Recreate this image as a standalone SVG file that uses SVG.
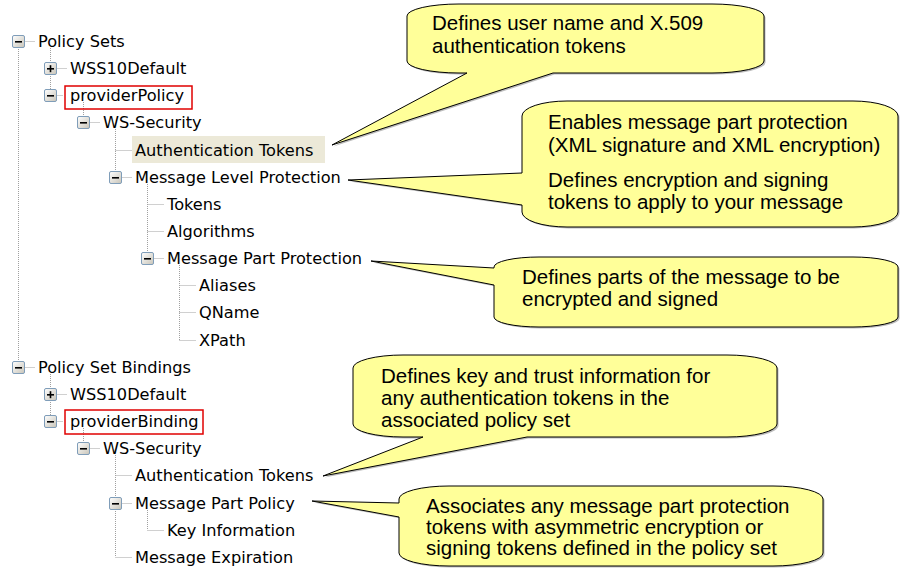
<svg xmlns="http://www.w3.org/2000/svg" xmlns:xlink="http://www.w3.org/1999/xlink" width="902" height="568" viewBox="0 0 902 568">
  <style>
    .tree text { font-family: "DejaVu Sans", Verdana, sans-serif; font-size: 16.2px; fill: #000; }
    .note text { font-family: "Liberation Sans", Arial, sans-serif; font-size: 20.5px; fill: #000; }
    .bubble { fill: #FFFF99; stroke: #000; stroke-width: 1; stroke-linejoin: round; }
    .shadow { fill: #7a7a7a; opacity: 0.5; }
    .dot { stroke: #A0A0A0; stroke-width: 1; stroke-dasharray: 1 1; fill: none; }
    .mark { stroke: #E00000; stroke-width: 1.5; fill: none; }
    .sel { fill: #ECE9D8; }
  </style>
  <defs>
    <linearGradient id="btn" x1="0" y1="0" x2="1" y2="1">
      <stop offset="0" stop-color="#FFFFFF"/>
      <stop offset="1" stop-color="#C8C4B8"/>
    </linearGradient>
    <!-- expander buttons, drawn from their top-left corner -->
    <g id="btn-minus">
      <rect x="0.5" y="0.5" width="12" height="12" rx="1.5" fill="url(#btn)" stroke="#7F9DB9"/>
      <rect x="3" y="6" width="7" height="1.6" fill="#000"/>
    </g>
    <g id="btn-plus">
      <rect x="0.5" y="0.5" width="12" height="12" rx="1.5" fill="url(#btn)" stroke="#7F9DB9"/>
      <rect x="3" y="6" width="7" height="1.6" fill="#000"/>
      <rect x="5.7" y="3.2" width="1.6" height="7" fill="#000"/>
    </g>
    <!-- callout outlines -->
    <path id="b1" d="M459,4 H712 A52,12 0 0 1 764,16 V61 A52,12 0 0 1 712,73 H553 L332,145 L467,73 H459 A52,12 0 0 1 407,61 V16 A52,12 0 0 1 459,4 Z"/>
    <path id="b2" d="M567,101 H853 A45,15 0 0 1 898,116 V212 A45,15 0 0 1 853,227 H567 A45,15 0 0 1 522,212 V205 L348,180 L522,173 V116 A45,15 0 0 1 567,101 Z"/>
    <path id="b3" d="M539,257 H853 A45,10 0 0 1 898,267 V317 A45,10 0 0 1 853,327 H539 A45,10 0 0 1 494,317 V285 L371,261 L494,268 V267 A45,10 0 0 1 539,257 Z"/>
    <path id="b4" d="M403,355 H727 A50,13 0 0 1 777,368 V424 A50,13 0 0 1 727,437 H527 L323,476 L423,437 H403 A50,13 0 0 1 353,424 V368 A50,13 0 0 1 403,355 Z"/>
    <path id="b5" d="M449,486 H773 A50,13 0 0 1 823,499 V553 A50,13 0 0 1 773,566 H449 A50,13 0 0 1 399,553 V517 L312,501 L399,503 V499 A50,13 0 0 1 449,486 Z"/>
  </defs>

  <rect width="902" height="568" fill="#FFFFFF"/>

  <!-- tree guide lines -->
  <g id="connectors">
    <path class="dot" d="M18.5,41 V367 M50.5,48 V95 M83.5,102 V122 M115.5,129 V177 M147.5,184 V258 M179.5,265 V340 M50.5,374 V421 M83.5,428 V448 M115.5,455 V557 M147.5,510 V530"/>
    <path class="dot" d="M18.5,41.5 H35 M50.5,68.5 H67 M50.5,95.5 H63 M83.5,122.5 H100 M115.5,150.5 H132 M115.5,177.5 H132 M147.5,204.5 H164 M147.5,231.5 H164 M147.5,258.5 H164 M179.5,285.5 H196 M179.5,312.5 H196 M179.5,340.5 H196 M18.5,367.5 H35 M50.5,394.5 H67 M50.5,421.5 H63 M83.5,448.5 H100 M115.5,475.5 H132 M115.5,503.5 H132 M147.5,530.5 H164 M115.5,557.5 H132"/>
  </g>

  <g class="tree">
    <g id="policy-sets"><use href="#btn-minus" x="12" y="35"/><text x="38" y="47">Policy Sets</text></g>
    <g id="ps-wss10default"><use href="#btn-plus" x="44" y="62"/><text x="70" y="74">WSS10Default</text></g>
    <g id="provider-policy"><use href="#btn-minus" x="44" y="89"/><rect class="mark" x="65" y="86" width="127" height="23"/><text x="70" y="101">providerPolicy</text></g>
    <g id="pp-ws-security"><use href="#btn-minus" x="77" y="116"/><text x="103" y="128">WS-Security</text></g>
    <g id="pp-auth-tokens"><rect class="sel" x="132" y="136" width="193" height="27"/><text x="135" y="156">Authentication Tokens</text></g>
    <g id="pp-msg-level"><use href="#btn-minus" x="109" y="171"/><text x="135" y="183">Message Level Protection</text></g>
    <g id="pp-tokens"><text x="167" y="210">Tokens</text></g>
    <g id="pp-algorithms"><text x="167" y="237">Algorithms</text></g>
    <g id="pp-msg-part"><use href="#btn-minus" x="141" y="252"/><text x="167" y="264">Message Part Protection</text></g>
    <g id="pp-aliases"><text x="199" y="291">Aliases</text></g>
    <g id="pp-qname"><text x="199" y="318">QName</text></g>
    <g id="pp-xpath"><text x="199" y="346">XPath</text></g>
    <g id="policy-set-bindings"><use href="#btn-minus" x="12" y="361"/><text x="38" y="373">Policy Set Bindings</text></g>
    <g id="psb-wss10default"><use href="#btn-plus" x="44" y="388"/><text x="70" y="400">WSS10Default</text></g>
    <g id="provider-binding"><use href="#btn-minus" x="44" y="415"/><rect class="mark" x="65" y="410" width="138" height="24"/><text x="70" y="427">providerBinding</text></g>
    <g id="pb-ws-security"><use href="#btn-minus" x="77" y="442"/><text x="103" y="454">WS-Security</text></g>
    <g id="pb-auth-tokens"><text x="135" y="481">Authentication Tokens</text></g>
    <g id="pb-msg-part-policy"><use href="#btn-minus" x="109" y="497"/><text x="135" y="509">Message Part Policy</text></g>
    <g id="pb-key-info"><text x="167" y="536">Key Information</text></g>
    <g id="pb-msg-expiration"><text x="135" y="563">Message Expiration</text></g>
  </g>

  <g class="note">
    <g id="note-auth-tokens">
      <use href="#b1" class="shadow" transform="translate(1.5,1.5)"/>
      <use href="#b1" class="bubble"/>
      <text x="432" y="30">Defines user name and X.509</text>
      <text x="432" y="53">authentication tokens</text>
    </g>
    <g id="note-msg-level">
      <use href="#b2" class="shadow" transform="translate(1.5,1.5)"/>
      <use href="#b2" class="bubble"/>
      <text x="548" y="129">Enables message part protection</text>
      <text x="548" y="152">(XML signature and XML encryption)</text>
      <text x="548" y="187">Defines encryption and signing</text>
      <text x="548" y="209">tokens to apply to your message</text>
    </g>
    <g id="note-msg-part">
      <use href="#b3" class="shadow" transform="translate(1.5,1.5)"/>
      <use href="#b3" class="bubble"/>
      <text x="522" y="284">Defines parts of the message to be</text>
      <text x="522" y="306">encrypted and signed</text>
    </g>
    <g id="note-binding-auth">
      <use href="#b4" class="shadow" transform="translate(1.5,1.5)"/>
      <use href="#b4" class="bubble"/>
      <text x="381" y="383">Defines key and trust information for</text>
      <text x="381" y="405">any authentication tokens in the</text>
      <text x="381" y="427">associated policy set</text>
    </g>
    <g id="note-part-policy">
      <use href="#b5" class="shadow" transform="translate(1.5,1.5)"/>
      <use href="#b5" class="bubble"/>
      <text x="426" y="513">Associates any message part protection</text>
      <text x="426" y="534">tokens with asymmetric encryption or</text>
      <text x="426" y="555">signing tokens defined in the policy set</text>
    </g>
  </g>
</svg>
